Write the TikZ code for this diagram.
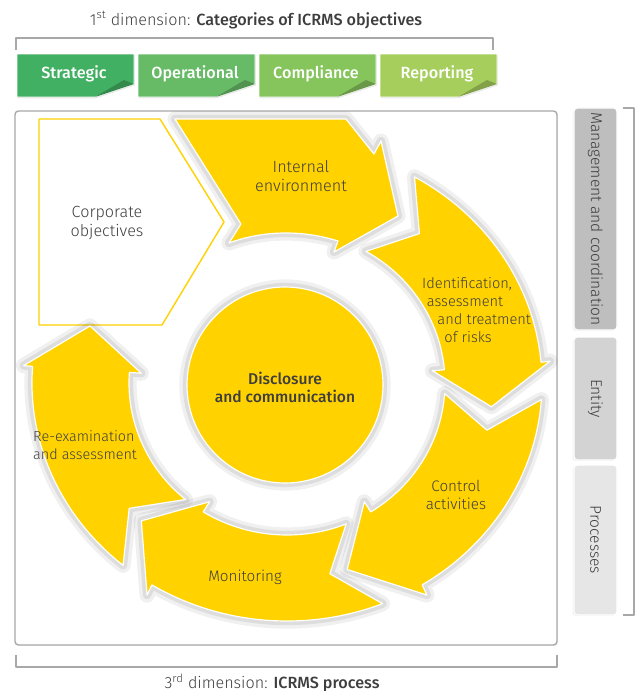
\documentclass[tikz,border=0pt]{standalone}
\usepackage{fontspec}
\setmainfont{Fira Sans Light}[BoldFont={Fira Sans Medium}]
\usetikzlibrary{shadows}

\definecolor{cyellow}{RGB}{255,210,0}
\definecolor{ctext}{RGB}{62,62,62}
\definecolor{cframe}{RGB}{168,168,168}
\definecolor{cgreena}{RGB}{66,176,98}
\definecolor{cgreenb}{RGB}{104,187,102}
\definecolor{cgreenc}{RGB}{134,196,92}
\definecolor{cgreend}{RGB}{166,206,92}
\definecolor{csidea}{RGB}{190,190,190}
\definecolor{csideb}{RGB}{211,211,211}
\definecolor{csidec}{RGB}{230,230,230}

% tail angle, head angle, tip angle, notch angle
\newcommand{\ringarrow}[4]{%
  \filldraw[ring] ({255*cos(#1)},{238*sin(#1)})
    arc[start angle=#1, end angle=#2, x radius=255, y radius=238]
    -- ({264*cos(#2)},{250*sin(#2)}) -- ({206*cos(#3)},{195*sin(#3)})
    -- ({146*cos(#2)},{140*sin(#2)}) -- ({158*cos(#2)},{152*sin(#2)})
    arc[start angle=#2, end angle=#1, x radius=158, y radius=152]
    -- ({206*cos(#4)},{195*sin(#4)}) -- cycle;}

\begin{document}
\begin{tikzpicture}[x=0.03cm, y=0.03cm, line join=round,
  txt/.style={text=ctext, align=center, font=\fontsize{13}{15.5}\selectfont},
  brk/.style={draw=cframe, line width=1.1pt},
  halo/.style={preaction={draw=black, draw opacity=0.06, line width=13pt},
               preaction={draw=black, draw opacity=0.08, line width=7pt}},
  ring/.style={halo, fill=cyellow, draw=white, line width=1pt},
  tab/.style={draw=white, line width=0.8pt,
              drop shadow={opacity=0.18, shadow xshift=0.8pt, shadow yshift=-1.2pt}},
  sidetab/.style={draw=white, line width=1pt, rounded corners=3pt,
              minimum height=1.29cm, inner sep=0pt, text=ctext,
              font=\fontsize{13.3}{15}\selectfont,
              drop shadow={opacity=0.15, shadow xshift=-1.2pt, shadow yshift=-0.8pt}}]
  \useasboundingbox (0,0) rectangle (643,-691);

  \node[txt, font=\fontsize{13.8}{16}\selectfont] (dim1) at (256,-20) {1\textsuperscript{st} dimension: \textbf{Categories of ICRMS objectives}};
  \draw[brk] (16,-50) |- (493,-38) -- (493,-50);
  \foreach \x/\col/\lbl [count=\i] in {17/cgreena/Strategic, 138/cgreenb/Operational,
                                      259/cgreenc/Compliance, 380/cgreend/Reporting}{
    \path[tab, fill=\col] (\x,-54) -- ++(117,0) -- ++(0,-30) -- ++(-39,-13) -- (\x,-97) -- cycle;
    \fill[\col!78!black] (\x+78,-97) -- (\x+107,-80) -- (\x+117,-84) -- cycle;
    \node[text=white, font=\fontsize{13.8}{16}\selectfont\bfseries] (tab\i) at (\x+57,-74) {\lbl};
  }

  \draw[cframe, line width=1.2pt, rounded corners=3pt, fill=white,
        drop shadow={opacity=0.1, shadow xshift=1pt, shadow yshift=-1pt}] (15,-111) rectangle (557,-645);

  \draw[cyellow, line width=1.2pt, fill=white] (39,-119) -- (160,-119) -- (224,-222) -- (162,-325) -- (39,-325) -- cycle;
  \node[txt, font=\fontsize{13.8}{17}\selectfont] (corp) at (107,-223) {Corporate\\objectives};

  \filldraw[ring] (175,-119) -- (346,-119) -- (374,-154) -- (381,-141) -- (398,-216) -- (334,-252)
    -- (338,-241) .. controls (303,-230) and (264,-230) .. (229,-243) -- (241,-224) -- cycle;
  \node[txt, font=\fontsize{13.8}{16}\selectfont] (intenv) at (301,-176) {Internal\\environment};

  \begin{scope}[shift={(287,-383)}]
    \ringarrow{60}{5}{-7}{50}
    \ringarrow{-4}{-58}{-73}{-14}
    \ringarrow{-68}{-122}{-135}{-78}
    \ringarrow{-130}{-184}{-197}{-140}
  \end{scope}

  \filldraw[ring] (285,-385) circle[radius=98];
  \node[txt, font=\fontsize{13.3}{15.5}\selectfont\bfseries] (discl) at (285,-387) {Disclosure\\and communication};

  \node[txt, font=\fontsize{12.5}{15.5}\selectfont, anchor=west, align=left, inner sep=0pt] (ident) at (422,-310)
    {Identification,\\\hspace*{4pt}assessment\\\hspace*{13pt}and treatment\\\hspace*{19pt}of risks};
  \node[txt] (ctrl) at (456,-495) {Control\\activities};
  \node[txt] (monit) at (245,-577) {Monitoring};
  \node[txt, font=\fontsize{12.3}{15}\selectfont, anchor=west, align=left, inner sep=0pt] (reexam) at (33,-445) {Re-examination\\and assessment};

  \draw[brk] (16,-655) |- (557,-667) -- (557,-655);
  \node[txt, font=\fontsize{13.8}{16}\selectfont] (dim3) at (272,-683) {3\textsuperscript{rd} dimension: \textbf{ICRMS process}};

  \node[sidetab, fill=csidea, minimum width=6.66cm, rotate=-90] (mgmt) at (595.5,-219) {Management and coordination};
  \node[sidetab, fill=csideb, minimum width=3.69cm, rotate=-90] (entity) at (595.5,-398.5) {Entity};
  \node[sidetab, fill=csidec, minimum width=4.5cm, rotate=-90] (proc) at (595.5,-540) {Processes};
  \draw[brk] (623,-108) -| (634,-615) -- (623,-615);
\end{tikzpicture}
\end{document}
